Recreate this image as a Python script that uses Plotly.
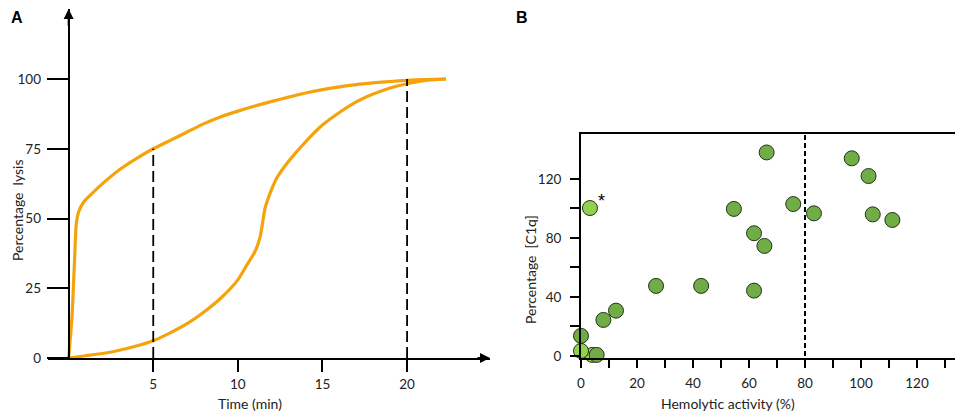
import plotly.graph_objects as go

# panel A: lysis kinetics
fast_t = [0, 0.2, 0.35, 0.45, 0.6, 0.9, 1.3, 2, 3, 4, 5, 6, 7, 8, 9, 10, 11, 12, 13, 14,
          15, 16, 17, 18, 19, 20, 21, 22.3]
fast_lysis = [0, 15, 35, 48, 52.5, 56, 58.5, 62.5, 67.5, 71.5, 75, 78, 81, 84, 86.5, 88.5,
              90.3, 92, 93.5, 95, 96.2, 97.2, 98, 98.6, 99.1, 99.5, 99.8, 100]
slow_t = [0, 1, 2, 3, 4, 5, 6, 7, 8, 9, 10, 10.5, 11, 11.3, 11.45, 11.6, 11.9, 12.3, 13,
          14, 15, 16, 17, 18, 19, 20, 21, 22.3]
slow_lysis = [0, 0.8, 1.6, 2.8, 4.3, 6.2, 9, 12.3, 16.5, 21.5, 28, 33, 38, 43, 48, 53.5,
              59, 64.5, 70.5, 77.5, 83.5, 88, 91.8, 94.6, 96.8, 98.3, 99.4, 100]
marks_t = [5, 20]
marks_lysis = [75, 100]
a_yticks = [0, 25, 50, 75, 100]
a_xticks = [5, 10, 15, 20]

# panel B: C1q vs hemolytic activity
hemo = [4.0, 0, 0, 5.6, 8.0, 12.5, 26.8, 42.9, 61.8, 54.6, 61.8, 65.5, 66.3, 75.8,
        83.2, 96.7, 102.7, 104.2, 111.2, 3.2]
c1q = [0.7, 13.6, 3.4, 0.7, 24.4, 30.7, 47.5, 47.5, 44.3, 99.7, 83.2, 74.6, 138, 103,
       96.7, 134, 122, 96, 92.2, 100.3]
group = ['light', 'dark', 'light', 'dark', 'dark', 'dark', 'dark', 'dark', 'dark', 'dark',
         'dark', 'dark', 'dark', 'dark', 'dark', 'dark', 'dark', 'dark', 'dark', 'light']
b_xticks = list(range(0, 140, 10))
b_yticks = list(range(0, 140, 20))

ORANGE = '#f5a30c'
FILL = {'dark': '#70ad47', 'light': '#92d050'}
FONT = 'Lato, Open Sans, sans-serif'

# the page body has an 8px margin, so shift everything up/left by that much
OFF = 8
W, H = 963 - OFF, 414 - OFF


def px_x(x):
    return (x - OFF) / W


def px_y(y):
    return 1 - (y - OFF) / H


fig = go.Figure()

for t, l in [(fast_t, fast_lysis), (slow_t, slow_lysis)]:
    fig.add_trace(go.Scatter(x=t, y=l, mode='lines',
                             line=dict(color=ORANGE, width=3.2, shape='spline', smoothing=0.6),
                             xaxis='x', yaxis='y', hoverinfo='skip'))
for t, l in zip(marks_t, marks_lysis):
    fig.add_trace(go.Scatter(x=[t, t], y=[0, l], mode='lines',
                             line=dict(color='black', width=1.8, dash='11px,5px'),
                             xaxis='x', yaxis='y', hoverinfo='skip'))

fig.add_trace(go.Scatter(x=[80, 80], y=[0, 151], mode='lines',
                         line=dict(color='black', width=2, dash='5px,3px'),
                         xaxis='x2', yaxis='y2', hoverinfo='skip', cliponaxis=False))
fig.add_trace(go.Scatter(x=hemo, y=c1q, mode='markers', cliponaxis=False,
                         marker=dict(size=15, color=[FILL[g] for g in group],
                                     line=dict(color='#24331a', width=1)),
                         xaxis='x2', yaxis='y2'))

axis_font = dict(family=FONT, size=13.5, color='#222')
common = dict(showline=True, linecolor='black', linewidth=2, showgrid=False,
              zeroline=False, automargin=False, ticks='outside', tickwidth=2,
              tickcolor='black', tickfont=axis_font)

fig.update_layout(
    width=W, height=H,
    margin=dict(l=0, r=0, t=0, b=0, pad=0, autoexpand=False),
    paper_bgcolor='white', plot_bgcolor='white',
    showlegend=False,
    font=dict(family=FONT, color='#222'),
    xaxis=dict(domain=[px_x(48), px_x(490)], range=[-1.22, 24.9], anchor='y',
               tickvals=a_xticks, ticklen=12, ticklabelstandoff=1, **common),
    yaxis=dict(domain=[px_y(358), px_y(9)], range=[0, 125.1], anchor='free',
               position=px_x(68.7), tickvals=a_yticks, ticklen=21, ticklabelstandoff=3,
               **common),
    xaxis2=dict(domain=[px_x(581), px_x(959)], range=[0, 135], anchor='y2', mirror=True,
                tickvals=b_xticks, ticktext=[str(v) if v % 20 == 0 else '' for v in b_xticks],
                ticklen=8, ticklabelstandoff=4, **common),
    yaxis2=dict(domain=[px_y(358), px_y(134)], range=[-1.4, 150.5], anchor='x2', mirror=True,
                tickvals=b_yticks, ticktext=[str(v) if v % 40 == 0 else '' for v in b_yticks],
                ticklen=9, ticklabelstandoff=6, **common),
)

# axis arrows on panel A
fig.add_annotation(x=0, y=125.1, xref='x', yref='y', ax=0, ay=18, text='',
                   showarrow=True, arrowhead=2, arrowsize=1, arrowwidth=2, arrowcolor='black')
fig.add_annotation(x=24.9, y=0, xref='x', yref='y', ax=-14, ay=0, text='',
                   showarrow=True, arrowhead=2, arrowsize=1, arrowwidth=2, arrowcolor='black')

# titles and labels, all centred on the point
# (nudged in a little where the reference text sits inside the page margin)
label_font = dict(family=FONT, size=14, color='#222')
panel_font = dict(family='Liberation Sans, Arial', size=16, color='black')
texts = [
    (17, 18, '<b>A</b>', 0, panel_font),
    (522, 18, '<b>B</b>', 0, panel_font),
    (250, 403, 'Time (min)', 0, label_font),
    (18, 210, 'Percentage  lysis', -90, label_font),
    (728, 403, 'Hemolytic activity (%)', 0, label_font),
    (530, 270, 'Percentage  [C1q]', -90, label_font),
]
for x, y, txt, ang, fnt in texts:
    fig.add_annotation(x=px_x(x), y=px_y(y), xref='paper', yref='paper', text=txt,
                       textangle=ang, showarrow=False, font=fnt, borderpad=0,
                       xanchor='center', yanchor='middle')
fig.add_annotation(x=7.2, y=105, xref='x2', yref='y2', text='*', showarrow=False,
                   xanchor='center', yanchor='middle',
                   font=dict(family='Liberation Sans, Arial', size=18, color='black'))

fig.write_html("out.html")
